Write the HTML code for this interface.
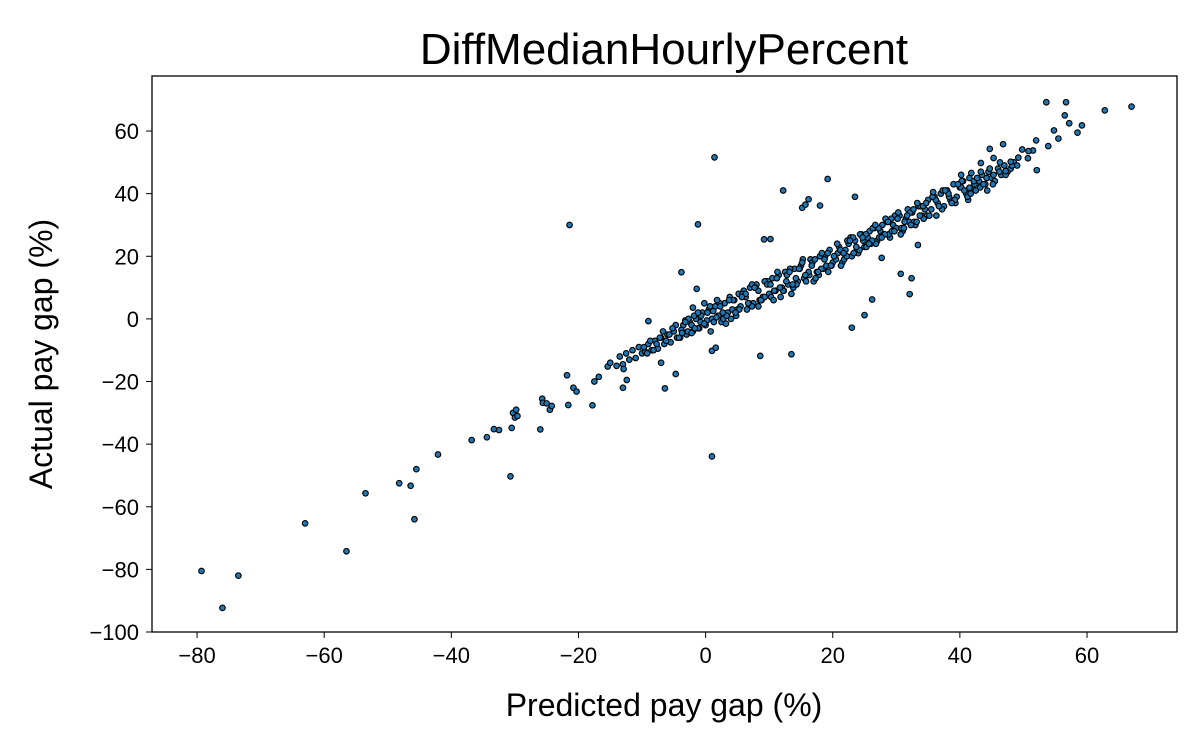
<!DOCTYPE html>
<html><head><meta charset="utf-8"><style>
html,body{margin:0;padding:0;background:#fff;}
svg{display:block;font-family:"Liberation Sans",sans-serif;}
</style></head><body>
<svg id="chart" width="1200" height="750">
<text x="664" y="64" text-anchor="middle" font-size="44">DiffMedianHourlyPercent</text>
<text x="664" y="716" text-anchor="middle" font-size="32">Predicted pay gap (%)</text>
<text transform="translate(52,354) rotate(-90)" text-anchor="middle" font-size="32">Actual pay gap (%)</text>
<g id="ticks"></g>
<g id="points"></g>
<rect x="152" y="76" width="1025" height="556" fill="none" stroke="#000" stroke-width="1.3"/>
</svg>
<script>
const xTicks=[-80,-60,-40,-20,0,20,40,60];
const yTicks=[-100,-80,-60,-40,-20,0,20,40,60];
const predicted=[
-14,-13.5,-13,-12.5,-12,-11.5,-11,-10.5,-10,-9.5,-9,-8.5,-8,-7.5,-7,-6.5,-6,-5.5,-5,-4.5,
-4,-3.5,-3,-2.5,-2,-1.5,-1,-0.5,0,0.5,1,1.5,2,2.5,3,3.5,4,4.5,5,-3.8,-2.8,-1.8,-0.8,0.2,1.2,2.2,3.2,4.2,5.2,-3.2,-2.2,-1.2,-0.2,0.8,1.8,2.8,3.8,4.8,
5.5,6,6.5,7,7.5,8,8.5,9,9.5,10,10.5,11,11.5,12,12.5,13,13.5,14,14.5,15,15.5,16,16.5,17,17.5,18,18.5,19,19.5,20,5.8,6.8,7.8,8.8,9.8,10.8,11.8,12.8,13.8,14.8,15.8,16.8,17.8,18.8,19.8,6.3,7.3,8.3,9.3,10.3,11.3,12.3,13.3,14.3,15.3,16.3,17.3,18.3,19.3,
20.5,21,21.5,22,22.5,23,23.5,24,24.5,25,25.5,26,26.5,27,27.5,28,28.5,29,29.5,30,30.5,31,31.5,32,32.5,33,33.5,34,34.5,35,20.8,21.8,22.8,23.8,24.8,25.8,26.8,27.8,28.8,29.8,30.8,31.8,32.8,33.8,34.8,21.3,22.3,23.3,24.3,25.3,26.3,27.3,28.3,29.3,30.3,31.3,32.3,33.3,34.3,
35.5,36,36.5,37,37.5,38,38.5,39,39.5,40,40.5,41,41.5,42,42.5,43,43.5,44,44.5,45,45.5,46,46.5,47,47.5,48,48.5,49,36.3,37.3,38.3,39.3,40.3,41.3,42.3,43.3,44.3,45.3,46.3,
-9.7,-8.7,-7.7,-6.7,-5.7,-4.7,-3.7,-2.7,-1.7,-0.7,0.3,1.3,2.3,3.3,4.3,5.3,6.3,7.3,8.3,9.3,-9.2,-8.2,-7.2,-6.2,-5.2,-4.2,-3.2,-2.2,-1.2,-0.2,0.7,1.7,2.7,3.7,4.7,5.7,6.7,7.7,8.7,9.7,
10.2,11.2,12.2,13.2,14.2,15.2,16.2,17.2,18.2,19.2,20.2,21.2,22.2,23.2,24.2,25.2,26.2,27.2,28.2,29.2,10.7,11.7,12.7,13.7,14.7,15.7,16.7,17.7,18.7,19.7,20.7,21.7,22.7,23.7,24.7,25.7,26.7,27.7,28.7,29.7,
30.2,31.2,32.2,33.2,34.2,35.2,36.2,37.2,38.2,39.2,40.2,41.2,42.2,43.2,44.2,45.2,46.2,47.2,48.2,30.7,31.7,32.7,33.7,34.7,35.7,36.7,37.7,38.7,39.7,40.7,41.7,42.7,43.7,44.7,
-79.3,-76,-73.5,-63,-56.5,-53.5,-48.2,-46.4,-45.5,-45.8,-42.1,-36.8,-34.4,-33.3,-32.5,-30.5,-30.3,-29.8,-30,-29.6,-30.7,-26,-25.7,-25.6,-25,-24.5,-24.2,-21.8,-21.6,-21.4,-20.8,-20.3,-17.8,-17.5,-16.8,-15.4,-15,
-1.2,1.4,1,12.2,15.2,16.2,15.7,19.2,23.5,13.5,8.6,23,25,26.2,30.7,32.1,32.4,33.4,27.7,-6.4,-4.7,-3.8,-7,-13,-12.4,-12.9,10.2,9.2,18,1,1.6,-1.4,-2,-9,
53.6,56.7,62.8,67,56.5,57.2,59.2,58.5,54.8,55.5,52,53.9,51.5,50.8,49.8,50.7,49.2,52.1,48,47.2,44.7,45.3,46.8,43.3,41.8,40.2,41.5,35.8];
const actual=[
-15,-12,-14.5,-11,-13,-10,-12.5,-9,-11,-10.5,-8,-10,-7,-9.5,-6,-8,-5,-7.5,-4,-6,
-6,-2,-5,-1,-4,0,-3,2,-2,3,0,4,1,-1,5,2,0,6,3,-3.5,-4,1,-1,-0.5,2.5,5,-1.5,3,8,-0.5,-2,-3,5,-4,6,0,7,1,
4,9,3,10,5,11,6,7,12,8,13,9,14,10,15,11,8,16,12,17,13,14,19,12,15,20,16,17,22,18,8,5,10,6,12,9,7,14,10,16,12,18,14,20,17,7,11,4,12,7,15,9,16,11,19,14,13,21,15,
19,23,18,22,24,20,25,21,27,23,26,24,29,25,28,27,31,26,30,29,33,28,32,31,34,30,36,33,35,38,21,19,26,22,25,28,24,30,27,33,29,35,31,36,33,17,25,21,27,23,29,26,32,28,34,31,30,37,32,
35,39,37,40,36,41,38,43,39,42,44,40,45,42,41,44,46,43,47,45,44,48,46,49,47,48,50,49,33,41,39,37,44,38,43,47,41,46,50,
-9,-7,-8,-4,-5,-2,-4.5,0,-3,1,2,-1,4,1,6,3,8,4,9,7,-11,-10,-6,-7,-3,-6,-1,-4.5,2,-1.5,4,0.5,2,6,2,7,5,10,6,11,
11,13,9,15,13,18,15,19,16,21,20,22,20,26,22,27,25,29,27,32,6,10,12,11,16,14,17,15,19,17,24,21,25,23,26,24,30,26,31,28,
32,29,34,31,36,33,38,35,40,38,42,39,44,42,45,43,47,46,49,27,33,35,33,37,39,36,41,37,43,41,40,45,43,48,
-80.5,-92.3,-82,-65.3,-74.2,-55.7,-52.5,-53.3,-48,-64,-43.3,-38.7,-37.8,-35.2,-35.5,-34.8,-30,-29,-31.5,-31,-50.3,-35.3,-25.5,-26.8,-27,-29,-27.8,-18,-27.5,30,-22,-23.2,-27.6,-20,-18.5,-15.2,-14,
30.2,51.6,-43.9,41,35.5,38.2,36.5,44.7,39,-11.3,-11.8,-2.8,1.2,6.2,14.4,7.9,13,23.6,19.5,-22.2,-17.6,14.9,-14,-22,-19.5,-16,25.5,25.4,36.2,-10.2,-9.2,9.6,3.6,-0.7,
69.2,69.2,66.6,67.8,65,62.5,61.8,59.5,60.2,57.6,57,55.2,53.8,53.6,54.1,51.3,51.5,47.5,50.2,47.2,54.3,51.4,55.8,49.8,46.6,46,41.9,40.5];
const NS="http://www.w3.org/2000/svg";
function xs(v){return 705.6+v*6.357;}
function ys(v){return 318.9-v*3.131;}
const tg=document.getElementById('ticks');
xTicks.forEach(t=>{
  const l=document.createElementNS(NS,'line');
  l.setAttribute('x1',xs(t));l.setAttribute('x2',xs(t));l.setAttribute('y1',632);l.setAttribute('y2',638);l.setAttribute('stroke','#000');
  
  
  tg.appendChild(l);
  const tx=document.createElementNS(NS,'text');
  tx.setAttribute('x',xs(t));tx.setAttribute('y',663);tx.setAttribute('text-anchor','middle');tx.setAttribute('font-size','22');
  tx.textContent=t<0?'\u2212'+(-t):t;
  
  
  tg.appendChild(tx);
});
yTicks.forEach(t=>{
  const l=document.createElementNS(NS,'line');
  l.setAttribute('x1',146);l.setAttribute('x2',152);l.setAttribute('y1',ys(t));l.setAttribute('y2',ys(t));l.setAttribute('stroke','#000');
  
  
  tg.appendChild(l);
  const tx=document.createElementNS(NS,'text');
  tx.setAttribute('x',139);tx.setAttribute('y',ys(t)+8);tx.setAttribute('text-anchor','end');tx.setAttribute('font-size','22');
  tx.textContent=t<0?'\u2212'+(-t):t;
  
  
  tg.appendChild(tx);
});
const pg=document.getElementById('points');
predicted.forEach((p,i)=>{
  const c=document.createElementNS(NS,'circle');
  c.setAttribute('cx',xs(p));c.setAttribute('cy',ys(actual[i]));c.setAttribute('r',2.8);
  c.setAttribute('fill','#1f77b4');c.setAttribute('stroke','#000');c.setAttribute('stroke-width','1.1');
  
  
  pg.appendChild(c);
});
</script>
</body></html>
